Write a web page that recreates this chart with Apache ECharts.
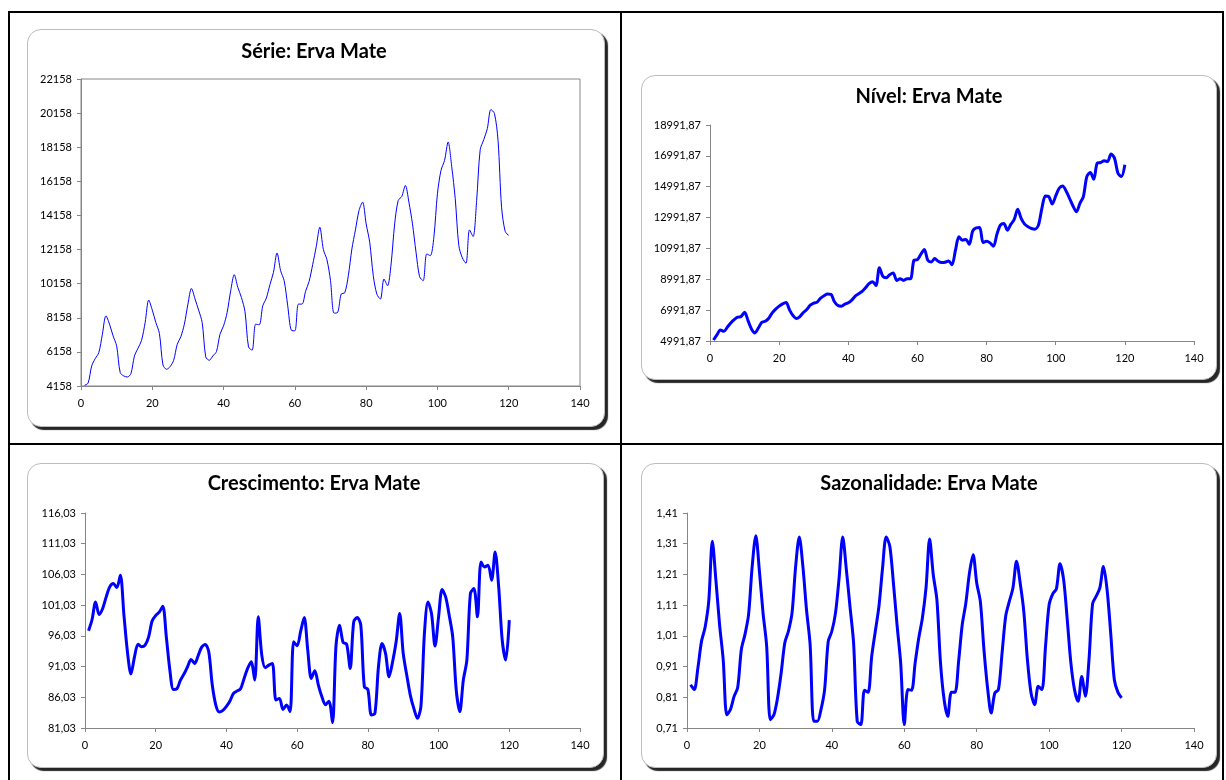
<!DOCTYPE html>
<html>
<head>
<meta charset="utf-8">
<script src="https://cdn.jsdelivr.net/npm/echarts@6/dist/echarts.min.js"></script>
<style>
  body { margin: 0; background: #fff; }
  .line { position: absolute; background: #000; }
  .panel {
    position: absolute;
    background: #fff;
    border: 1px solid #bdbdbd;
    border-radius: 14px;
    box-shadow: 3px 3px 1px rgba(0, 0, 0, 0.85);
  }
  #chart { position: absolute; left: 0; top: 0; width: 1226px; height: 780px; }
</style>
</head>
<body>
<!-- moldura da tabela -->
<div class="line" style="left:8px;top:11px;width:1216px;height:2px"></div>
<div class="line" style="left:8px;top:11px;width:2px;height:769px"></div>
<div class="line" style="left:620px;top:11px;width:2px;height:769px"></div>
<div class="line" style="left:1222px;top:11px;width:2px;height:769px"></div>
<div class="line" style="left:8px;top:443px;width:1216px;height:2px"></div>

<div class="panel" style="left:27px;top:29px;width:576px;height:396px"></div>
<div class="panel" style="left:641px;top:75px;width:574px;height:303px"></div>
<div class="panel" style="left:27px;top:463px;width:575px;height:303px"></div>
<div class="panel" style="left:641px;top:463px;width:574px;height:303px"></div>

<div id="chart"></div>

<script>
// série original (meses 1..120)
const serie = [
  4197, 4334, 5334, 5765, 6118, 7196, 8274, 7784, 7098, 6510,
  4942, 4746, 4687, 4883, 5922, 6373, 6843, 7882, 9195, 8607,
  7882, 7235, 5393, 5138, 5295, 5667, 6608, 7039, 7784, 8960,
  9881, 9254, 8607, 7882, 5863, 5667, 5922, 6177, 7196, 7686,
  8470, 9744, 10685, 9940, 9352, 8529, 6451, 6255, 7784, 7745,
  8862, 9313, 10097, 10822, 11959, 10920, 10332, 8862, 7431, 7392,
  8960, 8960, 9705, 10293, 11273, 12331, 13468, 12155, 11567, 10332,
  8431, 8470, 9548, 9626, 10626, 12194, 13311, 14448, 14938, 13664,
  12586, 10626, 9548, 9254, 10430, 10038, 11312, 13664, 15036, 15271,
  15918, 14938, 13664, 11998, 10567, 10332, 11900, 11802, 12880, 15428,
  16800, 17388, 18466, 17035, 15134, 12390, 11665, 11351, 13311, 12919,
  15036, 18015, 18603, 19250, 20367, 20132, 18564, 14644, 13233, 12978
];

const nivel = [
  5057, 5383, 5708, 5621, 5882, 6164, 6381, 6533, 6577, 6859,
  6316, 5773, 5513, 5839, 6208, 6273, 6468, 6816, 7054, 7250,
  7402, 7489, 7011, 6642, 6446, 6577, 6837, 7033, 7315, 7445,
  7510, 7771, 7923, 8031, 8010, 7532, 7293, 7250, 7380, 7467,
  7641, 7901, 8053, 8205, 8444, 8704, 8834, 8596, 9746, 9182,
  9095, 9290, 9399, 8921, 9030, 8921, 9030, 9030, 10224, 10267,
  10615, 10919, 10224, 10115, 10332, 10159, 10072, 10094, 10180, 9942,
  10875, 11743, 11527, 11570, 11266, 12134, 12330, 12352, 11375, 11461,
  11353, 11136, 11917, 12503, 12612, 12178, 12547, 12872, 13524, 12938,
  12569, 12395, 12286, 12243, 12503, 13589, 14392, 14349, 13871, 14392,
  14891, 15043, 14717, 14240, 13741, 13372, 13915, 14349, 15651, 15912,
  15478, 16520, 16563, 16672, 16628, 17106, 16845, 15868, 15651, 16411
];

const crescimento = [
  96.85, 98.69, 101.56, 99.5, 100.48, 102.38, 104.0, 104.54, 103.89, 105.9,
  99.5, 93.44, 89.81, 92.62, 94.68, 94.25, 94.52, 95.87, 98.48, 99.34,
  99.89, 100.86, 95.87, 90.46, 87.31, 87.42, 88.83, 89.81, 91.0, 92.19,
  91.54, 92.79, 94.2, 94.63, 93.44, 88.02, 84.77, 83.63, 83.9, 84.55,
  85.42, 86.66, 87.04, 87.42, 89.1, 90.73, 91.81, 88.83, 99.13, 92.9,
  90.84, 91.27, 91.54, 85.58, 85.85, 84.06, 84.77, 83.69, 95.06, 94.41,
  96.8, 99.02, 93.71, 89.1, 90.35, 88.02, 86.12, 84.8, 85.4, 81.9,
  94.52, 97.77, 94.95, 94.68, 90.73, 98.31, 99.02, 97.77, 87.75, 87.31,
  83.14, 83.41, 91.0, 94.79, 93.17, 89.37, 91.81, 95.06, 99.67, 93.17,
  89.64, 86.39, 84.23, 82.6, 84.5, 96.42, 101.56, 99.67, 94.36, 99.13,
  103.57, 102.38, 99.4, 95.87, 87.21, 83.69, 88.83, 92.08, 102.92, 103.73,
  99.13, 108.07, 107.25, 107.52, 105.09, 109.69, 104.0, 95.33, 92.08, 98.58
];

const sazonalidade = [
  0.851, 0.835, 0.905, 0.992, 1.038, 1.122, 1.318, 1.188, 1.046, 0.932,
  0.753, 0.77, 0.813, 0.842, 0.965, 1.014, 1.079, 1.236, 1.336, 1.22,
  1.084, 0.976, 0.737, 0.753, 0.808, 0.889, 0.987, 1.025, 1.084, 1.236,
  1.332, 1.236, 1.095, 0.981, 0.732, 0.732, 0.77, 0.835, 0.992, 1.025,
  1.084, 1.198, 1.332, 1.226, 1.106, 0.987, 0.732, 0.721, 0.833, 0.826,
  0.943, 1.025, 1.106, 1.231, 1.332, 1.302, 1.182, 1.046, 0.922, 0.721,
  0.835, 0.833, 0.922, 1.003, 1.068, 1.166, 1.325, 1.209, 1.128, 0.922,
  0.802, 0.748, 0.826, 0.826, 0.927, 1.046, 1.117, 1.215, 1.274, 1.182,
  1.122, 0.965, 0.84, 0.759, 0.824, 0.835, 0.954, 1.074, 1.122, 1.166,
  1.253, 1.182, 1.09, 0.932, 0.824, 0.786, 0.846, 0.835, 0.976, 1.112,
  1.147, 1.163, 1.245, 1.193, 1.063, 0.922, 0.835, 0.797, 0.878, 0.813,
  0.932, 1.115, 1.139, 1.166, 1.236, 1.16, 1.019, 0.867, 0.826, 0.808
];

// marcas dos eixos
const serieTicks = [4158, 6158, 8158, 10158, 12158, 14158, 16158, 18158, 20158, 22158];
const nivelTicks = [4991.87, 6991.87, 8991.87, 10991.87, 12991.87, 14991.87, 16991.87, 18991.87];
const crescTicks = [81.03, 86.03, 91.03, 96.03, 101.03, 106.03, 111.03, 116.03];
const sazTicks = [0.71, 0.81, 0.91, 1.01, 1.11, 1.21, 1.31, 1.41];
const xTicks = [0, 20, 40, 60, 80, 100, 120, 140];

const titulos = ["Série: Erva Mate", "Nível: Erva Mate", "Crescimento: Erva Mate", "Sazonalidade: Erva Mate"];

const gray = "#868686";
const font = "Lato, 'Open Sans', sans-serif";

const grids = [
  { left: 81, top: 79, width: 499, height: 307, show: true, borderColor: gray, borderWidth: 1 },
  { left: 710, top: 125, width: 484, height: 216 },
  { left: 85, top: 513, width: 495, height: 215 },
  { left: 687, top: 513, width: 507, height: 215 },
];

const titlePos = [[314, 42], [929, 87], [314, 474], [929, 474]];

function comma(v) {
  return v.toFixed(2).replace(".", ",");
}

function xAxis(idx) {
  return {
    type: "value",
    gridIndex: idx,
    min: xTicks[0],
    max: xTicks[xTicks.length - 1],
    interval: 20,
    axisLine: { show: true, lineStyle: { color: gray } },
    axisTick: { show: true, length: 4, lineStyle: { color: gray } },
    axisLabel: { margin: 12, color: "#000", fontFamily: font, fontSize: 11 },
    splitLine: { show: false },
  };
}

function yAxis(idx, ticks, fmt) {
  return {
    type: "value",
    gridIndex: idx,
    min: ticks[0],
    max: ticks[ticks.length - 1],
    axisLine: { show: true, lineStyle: { color: gray } },
    axisTick: { show: true, length: 4, customValues: ticks, lineStyle: { color: gray } },
    axisLabel: { customValues: ticks, formatter: fmt, margin: 9, color: "#000", fontFamily: font, fontSize: 11 },
    splitLine: { show: false },
  };
}

function serieLine(idx, values, width) {
  return {
    type: "line",
    xAxisIndex: idx,
    yAxisIndex: idx,
    data: values.map((v, k) => [k + 1, v]),
    showSymbol: false,
    smooth: 0.3,
    silent: true,
    lineStyle: { color: "#0000ff", width: width },
  };
}

const chart = echarts.init(document.getElementById("chart"));
chart.setOption({
  animation: false,
  title: titulos.map((t, k) => ({
    text: t,
    left: titlePos[k][0],
    top: titlePos[k][1],
    textAlign: "center",
    textVerticalAlign: "top",
    padding: 0,
    textStyle: { fontFamily: font, fontWeight: "bold", fontSize: 20, color: "#000" },
  })),
  grid: grids,
  xAxis: [xAxis(0), xAxis(1), xAxis(2), xAxis(3)],
  yAxis: [
    yAxis(0, serieTicks, (v) => String(Math.round(v))),
    yAxis(1, nivelTicks, comma),
    yAxis(2, crescTicks, comma),
    yAxis(3, sazTicks, comma),
  ],
  series: [
    serieLine(0, serie, 1),
    serieLine(1, nivel, 3),
    serieLine(2, crescimento, 3),
    serieLine(3, sazonalidade, 3),
  ],
});
</script>
</body>
</html>
